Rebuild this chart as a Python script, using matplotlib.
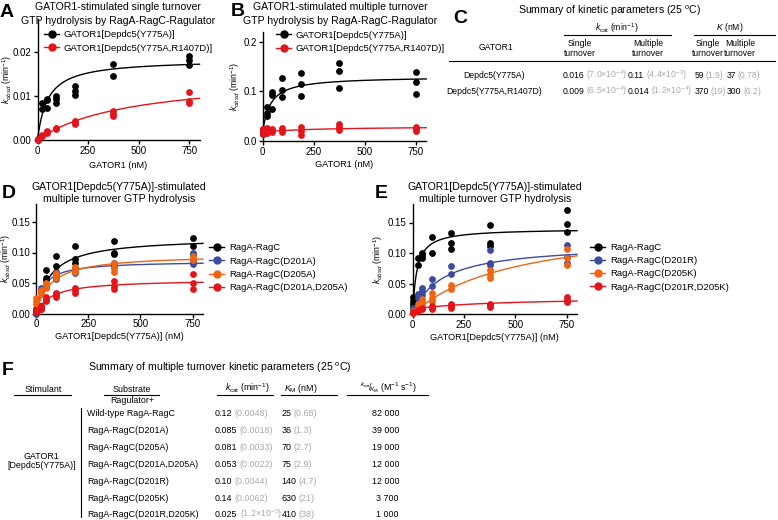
import matplotlib
matplotlib.use("Agg")
import matplotlib.pyplot as plt
import numpy as np
from matplotlib.lines import Line2D

plt.rcParams['font.family'] = ['Liberation Sans', 'DejaVu Sans']
plt.rcParams['mathtext.fontset'] = 'custom'
plt.rcParams['mathtext.rm'] = 'Liberation Sans'
plt.rcParams['mathtext.it'] = 'Liberation Sans:italic'
plt.rcParams['mathtext.bf'] = 'Liberation Sans:bold'

# ---------------- data ----------------
conc = [0, 23.4, 46.9, 93.8, 187.5, 375, 750]

A_labels = ["GATOR1[Depdc5(Y775A)]", "GATOR1[Depdc5(Y775A,R1407D)]"]
A_black = [[0.0, 0.0002], [0.0085, 0.0070], [0.0093, 0.0091, 0.0072], [0.0101, 0.0094, 0.0083],
           [0.0123, 0.0112, 0.0102], [0.0172, 0.0145], [0.0192, 0.0182, 0.0170]]
A_red = [[0.0, 0.0002], [0.0009, 0.0011], [0.0015, 0.0019, 0.0021], [0.0025, 0.0027],
         [0.0044, 0.0040, 0.0036], [0.0066, 0.0060, 0.0055], [0.0108, 0.0088, 0.0085]]
A_fit = [(0.0, 0.0183, 50), (0.0, 0.0148, 450)]   # (baseline, vmax, K)

B_black = [[0.025, 0.020, 0.015], [0.069, 0.057, 0.051], [0.098, 0.092, 0.064], [0.126, 0.103, 0.088],
           [0.137, 0.115, 0.091], [0.157, 0.141, 0.106], [0.138, 0.119, 0.095]]
B_red = [[0.025, 0.020, 0.015], [0.026, 0.021, 0.017], [0.025, 0.022, 0.018], [0.027, 0.022, 0.018],
         [0.029, 0.020, 0.013], [0.035, 0.029, 0.023], [0.029, 0.025, 0.020]]
B_fit = [(0.015, 0.115, 37), (0.018, 0.012, 300)]

D_labels = ["RagA-RagC", "RagA-RagC(D201A)", "RagA-RagC(D205A)", "RagA-RagC(D201A,D205A)"]
D_black = [[0.008, 0.004, 0.002], [0.012, 0.010, 0.008], [0.072, 0.059, 0.055], [0.094, 0.078, 0.068],
           [0.110, 0.089, 0.083], [0.119, 0.100, 0.098], [0.123, 0.110, 0.097]]
D_blue = [[0.003, 0.0], [0.042, 0.040, 0.036], [0.047, 0.044, 0.043], [0.066, 0.062, 0.057],
          [0.075, 0.071, 0.066], [0.083, 0.080, 0.077], [0.100, 0.085, 0.081]]
D_orange = [[0.026, 0.021, 0.016], [0.038, 0.035, 0.032], [0.050, 0.046, 0.042], [0.066, 0.062, 0.058],
            [0.076, 0.072, 0.068], [0.083, 0.075, 0.068], [0.095, 0.090, 0.087]]
D_red = [[0.005, 0.002], [0.012, 0.010, 0.008], [0.027, 0.023, 0.020], [0.034, 0.030, 0.027],
         [0.042, 0.038, 0.033], [0.053, 0.045, 0.040], [0.065, 0.050, 0.040]]
D_fit = [(0.0, 0.125, 70), (0.0, 0.086, 36), (0.0, 0.097, 70), (0.0, 0.056, 75)]

E_labels = ["RagA-RagC", "RagA-RagC(D201R)", "RagA-RagC(D205K)", "RagA-RagC(D201R,D205K)"]
E_black = [[0.028, 0.022, 0.017, 0.012], [0.091, 0.080], [0.100, 0.097, 0.091], [0.127, 0.100],
           [0.132, 0.116, 0.106], [0.146, 0.117, 0.111], [0.170, 0.148, 0.135]]
E_blue = [[0.010, 0.005], [0.032, 0.026], [0.042, 0.037, 0.031], [0.058, 0.046],
          [0.079, 0.065], [0.105, 0.083, 0.080], [0.113, 0.094, 0.083]]
E_orange = [[0.005, 0.001], [0.016, 0.011], [0.025, 0.020, 0.015], [0.034, 0.027, 0.021],
            [0.047, 0.041], [0.072, 0.064, 0.059], [0.106, 0.092, 0.081]]
E_red = [[0.003, 0.001], [0.007, 0.005], [0.010, 0.008], [0.013, 0.010, 0.008],
         [0.016, 0.013, 0.010], [0.017, 0.014, 0.012], [0.028, 0.023, 0.020]]
E_fit = [(0.0, 0.140, 20), (0.0, 0.115, 140), (0.0, 0.155, 500), (0.008, 0.020, 410)]

C_rows = ["Depdc5(Y775A)", "Depdc5(Y775A,R1407D)"]
C_kcat_single = ["0.016", "0.009"]
C_kcat_single_err = [r"(7.0$\times$10$^{-4}$)", r"(6.5$\times$10$^{-4}$)"]
C_kcat_multi = ["0.11", "0.014"]
C_kcat_multi_err = [r"(4.4$\times$10$^{-3}$)", r"(1.2$\times$10$^{-4}$)"]
C_K_single = ["59", "370"]
C_K_single_err = ["(1.9)", "(19)"]
C_K_multi = ["37", "300"]
C_K_multi_err = ["(0.78)", "(6.2)"]

F_rows = ["Wild-type RagA-RagC", "RagA-RagC(D201A)", "RagA-RagC(D205A)", "RagA-RagC(D201A,D205A)",
          "RagA-RagC(D201R)", "RagA-RagC(D205K)", "RagA-RagC(D201R,D205K)"]
F_kcat = ["0.12", "0.085", "0.081", "0.053", "0.10", "0.14", "0.025"]
F_kcat_err = ["(0.0048)", "(0.0018)", "(0.0033)", "(0.0022)", "(0.0044)", "(0.0062)", r"(1.2$\times$10$^{-5}$)"]
F_KM = ["25", "36", "70", "75", "140", "630", "410"]
F_KM_err = ["(0.68)", "(1.3)", "(2.7)", "(2.9)", "(4.7)", "(21)", "(38)"]
F_eff = ["82 000", "39 000", "19 000", "12 000", "12 000", "3 700", "1 000"]

BLACK, RED, BLUE, ORANGE = "#000000", "#e4141b", "#3c4ba0", "#f06414"
GREY = "#a8a8a8"

# ---------------- figure ----------------
W, H = 778, 520
fig = plt.figure(figsize=(W / 100, H / 100), dpi=100)
renderer = fig.canvas.get_renderer()

def add_ax(l, r, b, t):
    return fig.add_axes([l / W, 1 - b / H, (r - l) / W, (b - t) / H])

def ftext(x, y, s, **kw):
    return fig.text(x / W, 1 - y / H, s, **kw)

TICK_FS = 7.0
LAB_FS = 6.6
YLAB_FS = 6.3
TITLE_FS = 7.6
LEG_FS = 6.8
TAB_FS = 6.2

def style(ax, ylim, yticks, yfmt):
    ax.set_xlim(0, 800)
    ax.set_ylim(*ylim)
    ax.set_xticks([0, 250, 500, 750])
    ax.set_yticks(yticks)
    ax.set_yticklabels([yfmt % v for v in yticks])
    for s in ['top', 'right']:
        ax.spines[s].set_visible(False)
    for s in ['left', 'bottom']:
        ax.spines[s].set_linewidth(1.0)
    ax.tick_params(direction='out', length=3, width=1.0, labelsize=TICK_FS, pad=1.3)
    ax.set_ylabel(r"$k_{obsd}$ (min$^{-1}$)", fontsize=YLAB_FS)
    ax.patch.set_alpha(0)

def draw_series(ax, data, color, fit):
    xs, ys = [], []
    for c, vals in zip(conc, data):
        xs += [c] * len(vals)
        ys += vals
    b, v, k = fit
    xx = np.linspace(0, 800, 400)
    ax.plot(xx, b + v * xx / (k + xx), color=color, lw=1.0, zorder=2, clip_on=False)
    ax.scatter(xs, ys, s=24, color=color, linewidths=0, zorder=3, clip_on=False)

def legend(ax, labels, colors, x, y, spacing):
    handles = [Line2D([], [], color=c, marker='o', markersize=5, lw=1.0) for c in colors]
    ax.legend(handles, labels, loc='center left', bbox_to_anchor=(x / W, 1 - y / H),
              bbox_transform=fig.transFigure, frameon=False, fontsize=LEG_FS,
              handlelength=1.6, handletextpad=0.5, labelspacing=spacing, borderpad=0,
              borderaxespad=0)

# Panel A
axA = add_ax(37.5, 199.5, 140, 19)
style(axA, (0, 0.0275), [0.0, 0.01, 0.02], "%.2f")
draw_series(axA, A_black, BLACK, A_fit[0])
draw_series(axA, A_red, RED, A_fit[1])
axA.set_xlabel("GATOR1 (nM)", fontsize=LAB_FS)
axA.xaxis.set_label_coords(0.5, -0.17)
axA.yaxis.set_label_coords(-0.147, 0.5)
legend(axA, A_labels, [BLACK, RED], 44, 41.5, 0.45)

# Panel B
axB = add_ax(262.5, 426.2, 141, 31.7)
style(axB, (0, 0.22), [0.0, 0.1, 0.2], "%.1f")
draw_series(axB, B_black, BLACK, B_fit[0])
draw_series(axB, B_red, RED, B_fit[1])
axB.set_xlabel("GATOR1 (nM)", fontsize=LAB_FS)
axB.xaxis.set_label_coords(0.5, -0.17)
axB.yaxis.set_label_coords(-0.125, 0.5)
legend(axB, A_labels, [BLACK, RED], 276, 41.8, 0.45)

# Panel D
axD = add_ax(36, 203, 313.5, 203.7)
style(axD, (0, 0.18), [0.0, 0.05, 0.10, 0.15], "%.2f")
for d, c, f in zip([D_black, D_blue, D_orange, D_red], [BLACK, BLUE, ORANGE, RED], D_fit):
    draw_series(axD, d, c, f)
axD.set_xlabel("GATOR1[Depdc5(Y775A)] (nM)", fontsize=LAB_FS)
axD.xaxis.set_label_coords(0.5, -0.17)
axD.yaxis.set_label_coords(-0.138, 0.5)
legend(axD, D_labels, [BLACK, BLUE, ORANGE, RED], 209, 267.7, 0.45)

# Panel E
axE = add_ax(412.7, 577, 314, 204.2)
style(axE, (0, 0.18), [0.0, 0.05, 0.10, 0.15], "%.2f")
for d, c, f in zip([E_black, E_blue, E_orange, E_red], [BLACK, BLUE, ORANGE, RED], E_fit):
    draw_series(axE, d, c, f)
axE.set_xlabel("GATOR1[Depdc5(Y775A)] (nM)", fontsize=LAB_FS)
axE.xaxis.set_label_coords(0.5, -0.17)
axE.yaxis.set_label_coords(-0.17, 0.5)
legend(axE, E_labels, [BLACK, BLUE, ORANGE, RED], 590, 267.3, 0.45)

# Titles
def title2(xc, y1, y2, l1, l2):
    ftext(xc, y1, l1, fontsize=TITLE_FS, ha='center', va='center')
    ftext(xc, y2, l2, fontsize=TITLE_FS, ha='center', va='center')

title2(118, 7.5, 21, "GATOR1-stimulated single turnover", "GTP hydrolysis by RagA-RagC-Ragulator")
title2(340, 7.5, 21, "GATOR1-stimulated multiple turnover", "GTP hydrolysis by RagA-RagC-Ragulator")
title2(119, 187, 198.5, "GATOR1[Depdc5(Y775A)]-stimulated", "multiple turnover GTP hydrolysis")
title2(495, 187, 199, "GATOR1[Depdc5(Y775A)]-stimulated", "multiple turnover GTP hydrolysis")

# Panel letters
for lab, x, y in [("A", 0, 17), ("B", 231, 16), ("C", 453, 23), ("D", 2, 198), ("E", 375, 198), ("F", 2, 375)]:
    ftext(x, y, lab, fontsize=14, fontweight='bold', va='baseline', ha='left')

# helper for multi-colour text
def parts(x, yb, items, fs=TAB_FS, ha='left', gap=2.2):
    cur = x
    objs = []
    for s, c in items:
        t = ftext(cur, yb, s, fontsize=fs, color=c, ha='left', va='baseline')
        bb = t.get_window_extent(renderer)
        cur += bb.width + gap
        objs.append(t)
    total = cur - gap - x
    if ha == 'right':
        for t in objs:
            px, py = t.get_position()
            t.set_position((px - total / W, py))

def hline(x0, x1, y, lw=0.8):
    fig.add_artist(Line2D([x0 / W, x1 / W], [1 - y / H, 1 - y / H], color='black', lw=lw))

def vline(x, y0, y1, lw=0.8):
    fig.add_artist(Line2D([x / W, x / W], [1 - y0 / H, 1 - y1 / H], color='black', lw=lw))

# ---------------- Panel C table ----------------
ftext(610, 11, r"Summary of kinetic parameters (25 $^{\mathrm{o}}$C)", fontsize=TITLE_FS, ha='center', va='center')
ftext(617, 28, r"$k_{\mathrm{cat}}$ (min$^{-1}$)", fontsize=TAB_FS, ha='center', va='center')
ftext(730, 28, r"$K$ (nM)", fontsize=TAB_FS, ha='center', va='center')
hline(564, 671, 35)
hline(694, 775, 35)
ftext(496, 47, "GATOR1", fontsize=TAB_FS, ha='center', va='center')
for xc, a in [(580, "Single"), (648, "Multiple"), (708, "Single"), (740, "Multiple")]:
    ftext(xc, 44, a, fontsize=TAB_FS, ha='center', va='center')
    ftext(xc, 53.5, "turnover", fontsize=TAB_FS, ha='center', va='center')
hline(449, 775, 61)
for i, yc in enumerate([75, 90.5]):
    yb = yc + 3.0
    ftext(494, yb, C_rows[i], fontsize=TAB_FS, ha='center', va='baseline')
    parts(563, yb, [(C_kcat_single[i], 'black'), (C_kcat_single_err[i], GREY)], gap=1.6)
    parts(628, yb, [(C_kcat_multi[i], 'black'), (C_kcat_multi_err[i], GREY)], gap=1.6)
    parts(695, yb, [(C_K_single[i], 'black'), (C_K_single_err[i], GREY)], gap=1.5)
    parts(727, yb, [(C_K_multi[i], 'black'), (C_K_multi_err[i], GREY)], gap=1.5)

# ---------------- Panel F table ----------------
FS_F = 6.4
ftext(220, 368, r"Summary of multiple turnover kinetic parameters (25 $^{\mathrm{o}}$C)", fontsize=TITLE_FS,
      ha='center', va='center')
ftext(43, 390, "Stimulant", fontsize=FS_F, ha='center', va='center')
hline(14, 71, 395)
ftext(132, 389.5, "Substrate", fontsize=FS_F, ha='center', va='center')
hline(104, 159, 395)
ftext(132, 400.5, "Ragulator+", fontsize=FS_F, ha='center', va='center')
ftext(247, 388.5, r"$k_{\mathrm{cat}}$ (min$^{-1}$)", fontsize=FS_F, ha='center', va='center')
hline(217, 273, 395)
ftext(301, 388.5, r"$K_{\mathrm{M}}$ (nM)", fontsize=FS_F, ha='center', va='center')
hline(281, 337, 395)
ftext(388, 388, r"$^{k_{\mathrm{cat}}}\!/\!_{K_{\mathrm{M}}}$ (M$^{-1}$ s$^{-1}$)", fontsize=FS_F,
      ha='center', va='center')
hline(347, 428, 395)
vline(81, 408, 517)
ftext(41.7, 456.5, "GATOR1", fontsize=FS_F, ha='center', va='center')
ftext(41.7, 465.5, "[Depdc5(Y775A)]", fontsize=FS_F, ha='center', va='center')
row_y = [413.3, 430, 446.7, 464, 481, 497.7, 514]
for i, yc in enumerate(row_y):
    yb = yc + 3.1
    ftext(87.3, yb, F_rows[i], fontsize=FS_F, ha='left', va='baseline')
    parts(215, yb, [(F_kcat[i], 'black'), (F_kcat_err[i], GREY)], fs=FS_F)
    parts(281.7, yb, [(F_KM[i], 'black'), (F_KM_err[i], GREY)], fs=FS_F)
    ftext(399, yb, F_eff[i], fontsize=FS_F, ha='right', va='baseline')

fig.savefig("out.png", dpi=100)
